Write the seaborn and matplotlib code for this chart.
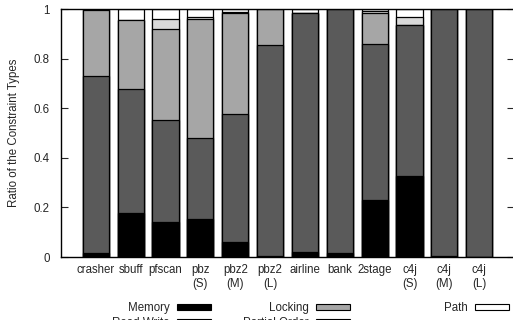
import matplotlib
matplotlib.use("Agg")
import matplotlib.pyplot as plt
import seaborn as sns
import numpy as np
import pandas as pd
from matplotlib.patches import Patch

categories = ["crasher", "sbuff", "pfscan", "pbz\n(S)", "pbz2\n(M)", "pbz2\n(L)",
              "airline", "bank", "2stage", "c4j\n(S)", "c4j\n(M)", "c4j\n(L)"]
memory     = [0.015, 0.176, 0.140, 0.153, 0.060, 0.005, 0.021, 0.015, 0.231, 0.328, 0.004, 0.000]
read_write = [0.716, 0.500, 0.411, 0.325, 0.518, 0.848, 0.961, 0.985, 0.629, 0.607, 0.996, 1.000]
locking    = [0.265, 0.280, 0.368, 0.482, 0.407, 0.147, 0.000, 0.000, 0.123, 0.000, 0.000, 0.000]
partial    = [0.004, 0.000, 0.039, 0.009, 0.004, 0.000, 0.000, 0.000, 0.007, 0.034, 0.000, 0.000]

series_names = ["Memory", "Read Write", "Locking", "Partial Order", "Path"]
colors = ["#000000", "#5a5a5a", "#a6a6a6", "#d9d9d9", "#ffffff"]

sns.set_style("ticks")
plt.rcParams["font.family"] = ["Liberation Sans", "DejaVu Sans"]
plt.rcParams["font.size"] = 8.3

mem = np.array(memory)
rw = np.array(read_write)
lk = np.array(locking)
po = np.array(partial)
path = np.clip(1 - (mem + rw + lk + po), 0, None)
layers = [mem, rw, lk, po, path]
cums = np.cumsum(np.vstack(layers), axis=0)

fig = plt.figure(figsize=(5.13, 3.2), dpi=100)
ax = fig.add_axes([61/513, 63/320, (514-61)/513, (257-9)/320])

for i in range(len(layers) - 1, -1, -1):
    df = pd.DataFrame({"cat": categories, "val": cums[i]})
    sns.barplot(data=df, x="cat", y="val", order=categories, color=colors[i],
                saturation=1, width=0.75, edgecolor="black", linewidth=0.9, ax=ax)

ax.set_xlim(-1, 12)
ax.set_ylim(0, 1)
ax.set_yticks([0, 0.2, 0.4, 0.6, 0.8, 1.0])
ax.set_yticklabels(["0", "0.2", "0.4", "0.6", "0.8", "1"])
ax.set_xlabel("")
ax.set_ylabel("Ratio of the Constraint Types", fontsize=8.3, labelpad=10)
ax.tick_params(axis="y", direction="in", length=5, width=0.8, right=True, labelsize=8.3, pad=8)
ax.tick_params(axis="x", length=0, labelsize=8.3, pad=5)
for s in ax.spines.values():
    s.set_visible(True)
    s.set_linewidth(1.0)
    s.set_color("black")

handles = [Patch(facecolor=c, edgecolor="black", linewidth=0.8) for c in colors]
col_groups = [[0, 1], [2, 3], [4]]
col_right = [211, 350, 509]
for grp, xr in zip(col_groups, col_right):
    fig.legend([handles[k] for k in grp], [series_names[k] for k in grp],
               loc="upper right", bbox_to_anchor=(xr/513, 1 - 302/320),
               frameon=False, markerfirst=False, borderpad=0, borderaxespad=0,
               handlelength=2.95, handleheight=0.45, labelspacing=0.28,
               fontsize=8.3, handletextpad=0.6)

fig.savefig("out.png", dpi=100)
